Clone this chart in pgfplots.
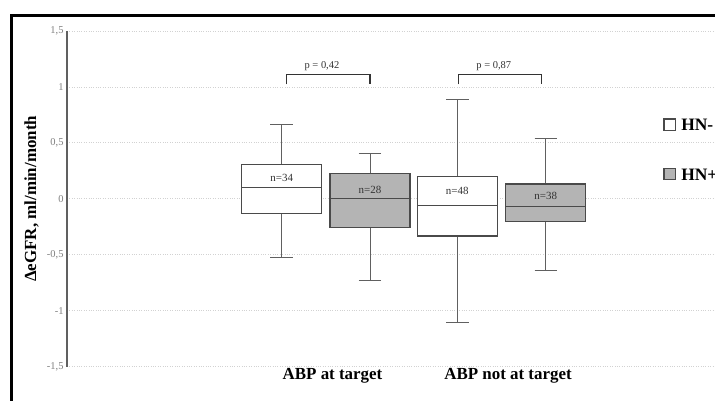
\documentclass[border=0pt]{standalone}
\usepackage{fontspec}
\setmainfont{Liberation Serif}
\usepackage{pgfplots}
\pgfplotsset{compat=1.18}
\usepgfplotslibrary{statistics}
\definecolor{boxline}{HTML}{4A4A4A}
\definecolor{whisk}{HTML}{606060}
\definecolor{hnplus}{HTML}{B4B4B4}
\definecolor{gridc}{HTML}{D2D2D2}
\definecolor{tickc}{HTML}{808080}
\begin{document}
\begin{tikzpicture}
\useasboundingbox (0,0) rectangle (715bp,401bp);
\clip (0,0) rectangle (715bp,401bp);
\fill[white] (0,0) rectangle (715bp,401bp);
\begin{axis}[
  at={(67bp,34.4bp)}, anchor=south west,
  scale only axis, width=713bp, height=335.6bp,
  xmin=-0.476, xmax=3.587, ymin=-1.5, ymax=1.5,
  axis y line*=left, axis x line*=bottom,
  x axis line style={draw=none},
  y axis line style={draw=whisk, line width=1.1bp},
  ytick={-1.5,-1,-0.5,0,0.5,1,1.5},
  yticklabel style={font=\fontsize{10.5}{11}\selectfont, color=tickc},
  /pgf/number format/use comma,
  /pgf/number format/assume math mode=true,
  xtick={1,2},
  xticklabels={ABP at target, ABP not at target},
  xticklabel style={font=\fontsize{17}{18}\selectfont\bfseries, xshift=6.5bp, yshift=1.5bp},
  major tick length=0pt,
  ymajorgrids,
  grid style={dotted, color=gridc, line width=0.8bp},
  ylabel={ΔeGFR, ml/min/month},
  ylabel style={font=\fontsize{17}{18}\selectfont\bfseries, at={(axis description cs:-0.0498,0.5)}, anchor=center},
  boxplot/draw direction=y,
  boxplot/box extend=0.455,
  boxplot/whisker extend=0.128,
  boxplot/every whisker/.style={draw=whisk, line width=1bp},
  boxplot/every box/.style={line width=1.2bp},
  boxplot/every median/.style={line width=1.2bp},
  legend cell align=left,
  legend style={at={(0.8363,0.7399)}, anchor=north west, draw=none, fill=none,
    inner sep=0pt, row sep=36.4bp, column sep=5bp,
    nodes={inner sep=0pt, text height=12bp, text depth=0pt},
    font=\fontsize{17.5}{18}\selectfont\bfseries},
  clip=false,
]
% HN- at target
\addplot[boxplot prepared={draw position=0.7476, median=0.103, upper quartile=0.309,
  lower quartile=-0.130, upper whisker=0.667, lower whisker=-0.526},
  draw=boxline, fill=white, forget plot] coordinates {};
% HN+ at target
\addplot[boxplot prepared={draw position=1.2507, median=0.002, upper quartile=0.228,
  lower quartile=-0.255, upper whisker=0.405, lower whisker=-0.732},
  draw=boxline, fill=hnplus, forget plot] coordinates {};
% HN- not at target
\addplot[boxplot prepared={draw position=1.748, median=-0.061, upper quartile=0.199,
  lower quartile=-0.333, upper whisker=0.885, lower whisker=-1.106},
  draw=boxline, fill=white, forget plot] coordinates {};
% HN+ not at target
\addplot[boxplot prepared={draw position=2.252, median=-0.070, upper quartile=0.132,
  lower quartile=-0.204, upper whisker=0.535, lower whisker=-0.637},
  draw=boxline, fill=hnplus, forget plot] coordinates {};

\addlegendimage{legend image code/.code={\draw[draw=boxline, fill=white, line width=1.1bp] (0bp,-5.85bp) rectangle (11.7bp,5.85bp);}}
\addlegendentry{HN-}
\addlegendimage{legend image code/.code={\draw[draw=boxline, fill=hnplus, line width=1.1bp] (0bp,-5.85bp) rectangle (11.7bp,5.85bp);}}
\addlegendentry{HN+}

\begin{scope}[every node/.style={font=\fontsize{11}{12}\selectfont, text=black!80}]
\node at (axis cs:0.7476,0.183) {n=34};
\node at (axis cs:1.2507,0.076) {n=28};
\node at (axis cs:1.748,0.067) {n=48};
\node at (axis cs:2.252,0.025) {n=38};
\end{scope}

\draw[black!80, line width=1.3bp] (axis cs:0.776,1.022) -- (axis cs:0.776,1.112) -- (axis cs:1.251,1.112) -- (axis cs:1.251,1.022);
\draw[black!80, line width=1.3bp] (axis cs:1.756,1.022) -- (axis cs:1.756,1.112) -- (axis cs:2.229,1.112) -- (axis cs:2.229,1.022);
\node[anchor=base, font=\fontsize{10.5}{12}\selectfont, text=black!80] at (axis cs:0.977,1.165) {p = 0,42};
\node[anchor=base, font=\fontsize{10.5}{12}\selectfont, text=black!80] at (axis cs:1.956,1.165) {p = 0,87};
\end{axis}
\draw[black, line width=2.8bp] (11.7bp,-20bp) -- (11.7bp,385.7bp) -- (740bp,385.7bp);
\end{tikzpicture}
\end{document}
